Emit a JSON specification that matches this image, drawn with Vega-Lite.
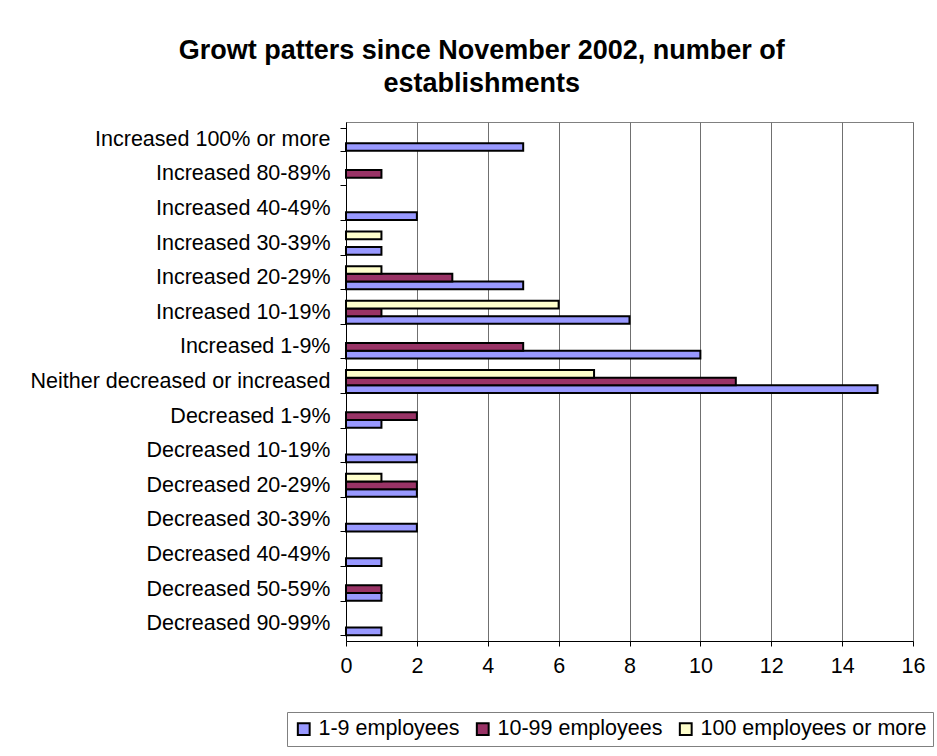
{
  "$schema": "https://vega.github.io/schema/vega-lite/v6.json",
  "autosize": "none",
  "width": 567,
  "height": 519,
  "padding": {"left": 346, "top": 122, "right": 24, "bottom": 115},
  "background": "white",
  "title": {
    "text": ["Growt patters since November 2002, number of", "establishments"],
    "font": "Liberation Sans",
    "fontSize": 27,
    "fontWeight": "bold",
    "color": "black",
    "anchor": "middle",
    "frame": "bounds",
    "lineHeight": 33,
    "offset": 13
  },
  "data": {
    "values": [
      {"change": "Increased 100% or more", "size": "1-9 employees", "count": 5},
      {"change": "Increased 80-89%", "size": "10-99 employees", "count": 1},
      {"change": "Increased 40-49%", "size": "1-9 employees", "count": 2},
      {"change": "Increased 30-39%", "size": "1-9 employees", "count": 1},
      {"change": "Increased 30-39%", "size": "100 employees or more", "count": 1},
      {"change": "Increased 20-29%", "size": "1-9 employees", "count": 5},
      {"change": "Increased 20-29%", "size": "10-99 employees", "count": 3},
      {"change": "Increased 20-29%", "size": "100 employees or more", "count": 1},
      {"change": "Increased 10-19%", "size": "1-9 employees", "count": 8},
      {"change": "Increased 10-19%", "size": "10-99 employees", "count": 1},
      {"change": "Increased 10-19%", "size": "100 employees or more", "count": 6},
      {"change": "Increased 1-9%", "size": "1-9 employees", "count": 10},
      {"change": "Increased 1-9%", "size": "10-99 employees", "count": 5},
      {"change": "Neither decreased or increased", "size": "1-9 employees", "count": 15},
      {"change": "Neither decreased or increased", "size": "10-99 employees", "count": 11},
      {"change": "Neither decreased or increased", "size": "100 employees or more", "count": 7},
      {"change": "Decreased 1-9%", "size": "1-9 employees", "count": 1},
      {"change": "Decreased 1-9%", "size": "10-99 employees", "count": 2},
      {"change": "Decreased 10-19%", "size": "1-9 employees", "count": 2},
      {"change": "Decreased 20-29%", "size": "1-9 employees", "count": 2},
      {"change": "Decreased 20-29%", "size": "10-99 employees", "count": 2},
      {"change": "Decreased 20-29%", "size": "100 employees or more", "count": 1},
      {"change": "Decreased 30-39%", "size": "1-9 employees", "count": 2},
      {"change": "Decreased 40-49%", "size": "1-9 employees", "count": 1},
      {"change": "Decreased 50-59%", "size": "1-9 employees", "count": 1},
      {"change": "Decreased 50-59%", "size": "10-99 employees", "count": 1},
      {"change": "Decreased 90-99%", "size": "1-9 employees", "count": 1}
    ]
  },
  "mark": {"type": "bar", "stroke": "black", "strokeWidth": 2},
  "encoding": {
    "y": {
      "field": "change",
      "type": "nominal",
      "sort": [
        "Increased 100% or more", "Increased 80-89%", "Increased 40-49%", "Increased 30-39%",
        "Increased 20-29%", "Increased 10-19%", "Increased 1-9%", "Neither decreased or increased",
        "Decreased 1-9%", "Decreased 10-19%", "Decreased 20-29%", "Decreased 30-39%",
        "Decreased 40-49%", "Decreased 50-59%", "Decreased 90-99%"
      ],
      "scale": {"paddingInner": 0.333, "paddingOuter": 0.1667},
      "axis": {
        "title": null,
        "labelFont": "Liberation Sans",
        "labelFontSize": 21.5,
        "labelColor": "black",
        "labelPadding": 10,
        "labelLimit": 400,
        "tickBand": "extent",
        "tickSize": 6,
        "tickColor": "black",
        "domainColor": "black",
        "domainWidth": 1,
        "grid": false
      }
    },
    "yOffset": {
      "field": "size",
      "type": "nominal",
      "sort": ["100 employees or more", "10-99 employees", "1-9 employees"],
      "scale": {"paddingInner": 0, "paddingOuter": 0}
    },
    "x": {
      "field": "count",
      "type": "quantitative",
      "scale": {"domain": [0, 16], "nice": false},
      "axis": {
        "title": null,
        "values": [0, 2, 4, 6, 8, 10, 12, 14, 16],
        "labelFont": "Liberation Sans",
        "labelFontSize": 21.5,
        "labelColor": "black",
        "labelPadding": 9,
        "labelFlush": false,
        "tickSize": 5,
        "tickColor": "black",
        "domainColor": "black",
        "domainWidth": 1,
        "grid": true,
        "gridColor": "#707070",
        "gridWidth": 1
      }
    },
    "color": {
      "field": "size",
      "type": "nominal",
      "scale": {
        "domain": ["1-9 employees", "10-99 employees", "100 employees or more"],
        "range": ["#9999FF", "#993366", "#FFFFCC"]
      },
      "legend": {
        "title": null,
        "orient": "none",
        "direction": "horizontal",
        "legendX": -59,
        "legendY": 590,
        "symbolType": "square",
        "symbolSize": 140,
        "symbolStrokeColor": "black",
        "symbolStrokeWidth": 2,
        "symbolOpacity": 1,
        "labelFont": "Liberation Sans",
        "labelFontSize": 21.5,
        "labelColor": "black",
        "labelLimit": 400,
        "labelOffset": 4,
        "columnPadding": 12,
        "padding": 6,
        "strokeColor": "#808080",
        "fillColor": "white"
      }
    }
  },
  "config": {
    "view": {"stroke": "#808080", "strokeWidth": 1}
  }
}
